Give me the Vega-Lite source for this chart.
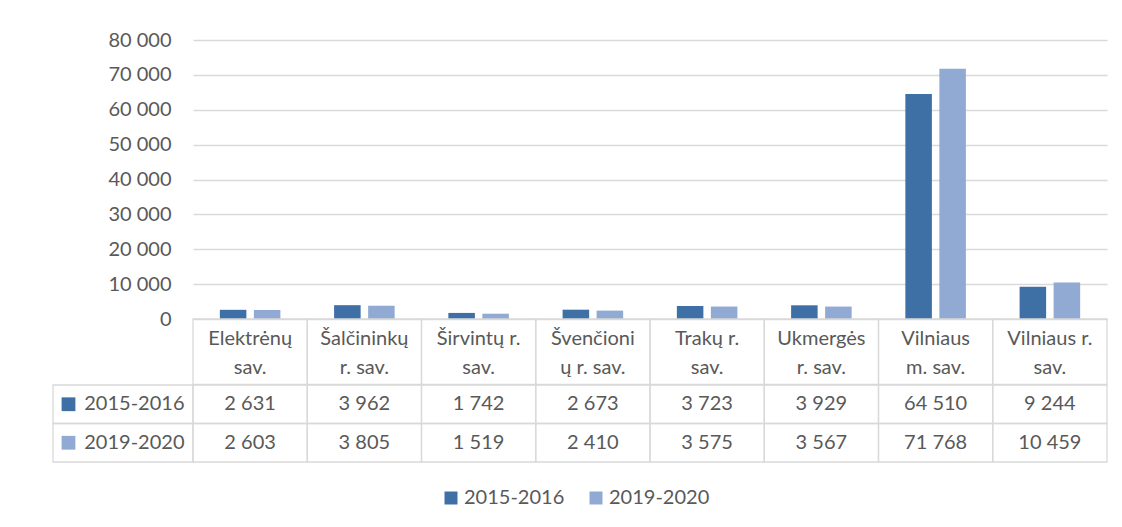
{
  "$schema": "https://vega.github.io/schema/vega-lite/v6.json",
  "padding": {"left": 52, "top": 30, "right": 0, "bottom": 0},
  "config": {
    "font": "Lato",
    "view": {"stroke": null},
    "locale": {"number": {"decimal": ",", "thousands": " ", "grouping": [3], "currency": ["", " €"]}},
    "text": {"font": "Lato", "fontSize": 20, "color": "#595959"},
    "axis": {"labelFont": "Lato", "labelFontSize": 20, "labelColor": "#595959"}
  },
  "datasets": {
    "main": [
      {"cat": "Elektrėnų sav.", "label": "Elektrėnų\nsav.", "series": "2015-2016", "value": 2631},
      {"cat": "Elektrėnų sav.", "label": "Elektrėnų\nsav.", "series": "2019-2020", "value": 2603},
      {"cat": "Šalčininkų r. sav.", "label": "Šalčininkų\nr. sav.", "series": "2015-2016", "value": 3962},
      {"cat": "Šalčininkų r. sav.", "label": "Šalčininkų\nr. sav.", "series": "2019-2020", "value": 3805},
      {"cat": "Širvintų r. sav.", "label": "Širvintų r.\nsav.", "series": "2015-2016", "value": 1742},
      {"cat": "Širvintų r. sav.", "label": "Širvintų r.\nsav.", "series": "2019-2020", "value": 1519},
      {"cat": "Švenčionių r. sav.", "label": "Švenčioni\nų r. sav.", "series": "2015-2016", "value": 2673},
      {"cat": "Švenčionių r. sav.", "label": "Švenčioni\nų r. sav.", "series": "2019-2020", "value": 2410},
      {"cat": "Trakų r. sav.", "label": "Trakų r.\nsav.", "series": "2015-2016", "value": 3723},
      {"cat": "Trakų r. sav.", "label": "Trakų r.\nsav.", "series": "2019-2020", "value": 3575},
      {"cat": "Ukmergės r. sav.", "label": "Ukmergės\nr. sav.", "series": "2015-2016", "value": 3929},
      {"cat": "Ukmergės r. sav.", "label": "Ukmergės\nr. sav.", "series": "2019-2020", "value": 3567},
      {"cat": "Vilniaus m. sav.", "label": "Vilniaus\nm. sav.", "series": "2015-2016", "value": 64510},
      {"cat": "Vilniaus m. sav.", "label": "Vilniaus\nm. sav.", "series": "2019-2020", "value": 71768},
      {"cat": "Vilniaus r. sav.", "label": "Vilniaus r.\nsav.", "series": "2015-2016", "value": 9244},
      {"cat": "Vilniaus r. sav.", "label": "Vilniaus r.\nsav.", "series": "2019-2020", "value": 10459}
    ]
  },
  "columns": 2,
  "spacing": 0,
  "bounds": "flush",
  "resolve": {"scale": {"x": "independent", "y": "independent", "color": "independent"}},
  "concat": [
    {
      "width": 140, "height": 279,
      "data": {"values": [{}]},
      "mark": {"type": "text"},
      "encoding": {"text": {"value": ""}}
    },
    {
      "width": 914, "height": 279,
      "data": {"name": "main"},
      "mark": {"type": "bar"},
      "encoding": {
        "x": {"field": "cat", "type": "nominal", "sort": null, "scale": {"paddingInner": 0.47, "paddingOuter": 0.235}, "axis": null},
        "xOffset": {"field": "series", "type": "nominal", "scale": {"paddingInner": 0.22}},
        "y": {
          "field": "value", "type": "quantitative",
          "scale": {"domain": [0, 80000], "nice": false},
          "axis": {"values": [0, 10000, 20000, 30000, 40000, 50000, 60000, 70000, 80000], "format": ",d", "title": null, "domain": false, "ticks": false, "labelPadding": 22, "grid": true, "gridColor": "#D9D9D9", "gridWidth": 1.3}
        },
        "color": {
          "field": "series", "type": "nominal",
          "scale": {"domain": ["2015-2016", "2019-2020"], "range": ["#3E70A6", "#91AAD3"]},
          "legend": {"orient": "none", "legendX": 248, "legendY": 448, "direction": "horizontal", "title": null, "symbolType": "square", "symbolSize": 169, "symbolStrokeWidth": 0, "labelFont": "Lato", "labelFontSize": 20, "labelColor": "#595959", "columnPadding": 21, "labelOffset": 3}
        }
      }
    },
    {
      "width": 140, "height": 65.5,
      "data": {"values": [{}]},
      "mark": {"type": "text"},
      "encoding": {"text": {"value": ""}}
    },
    {
      "width": 914, "height": 65.5,
      "data": {"name": "main"},
      "transform": [{"filter": "datum.series === '2015-2016'"}],
      "encoding": {
        "x": {"field": "cat", "type": "nominal", "sort": null, "scale": {"paddingInner": 0, "paddingOuter": 0}, "axis": null}
      },
      "layer": [
        {"mark": {"type": "rect", "fill": "white", "fillOpacity": 0, "stroke": "#D9D9D9", "strokeWidth": 1.3}},
        {"mark": {"type": "text", "lineBreak": "\n", "lineHeight": 29, "dy": -13}, "encoding": {"text": {"field": "label", "type": "nominal"}}}
      ]
    },
    {
      "width": 140, "height": 77,
      "data": {"name": "main"},
      "transform": [{"filter": "datum.cat === 'Elektrėnų sav.'"}],
      "encoding": {
        "y": {"field": "series", "type": "nominal", "sort": null, "scale": {"paddingInner": 0, "paddingOuter": 0}, "axis": null}
      },
      "layer": [
        {"mark": {"type": "rect", "fill": "white", "fillOpacity": 0, "stroke": "#D9D9D9", "strokeWidth": 1.3}},
        {
          "mark": {"type": "point", "shape": "square", "filled": true, "size": 190, "opacity": 1},
          "encoding": {
            "x": {"datum": "key", "type": "nominal", "scale": {"type": "point", "padding": 0, "domain": ["key", "name"], "range": [15.5, 131.5]}, "axis": null},
            "color": {"field": "series", "type": "nominal", "scale": {"domain": ["2015-2016", "2019-2020"], "range": ["#3E70A6", "#91AAD3"]}, "legend": null}
          }
        },
        {
          "mark": {"type": "text", "align": "right"},
          "encoding": {
            "x": {"datum": "name", "type": "nominal"},
            "text": {"field": "series", "type": "nominal"}
          }
        }
      ]
    },
    {
      "width": 914, "height": 77,
      "data": {"name": "main"},
      "encoding": {
        "x": {"field": "cat", "type": "nominal", "sort": null, "scale": {"paddingInner": 0, "paddingOuter": 0}, "axis": null},
        "y": {"field": "series", "type": "nominal", "sort": null, "scale": {"paddingInner": 0, "paddingOuter": 0}, "axis": null}
      },
      "layer": [
        {"mark": {"type": "rect", "fill": "white", "fillOpacity": 0, "stroke": "#D9D9D9", "strokeWidth": 1.3}},
        {"mark": {"type": "text"}, "encoding": {"text": {"field": "value", "type": "quantitative", "format": ","}}}
      ]
    }
  ]
}
